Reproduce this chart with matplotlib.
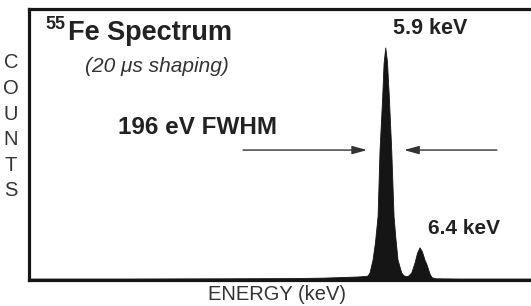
import matplotlib
matplotlib.use("Agg")
import matplotlib.pyplot as plt

plt.rcParams['font.family'] = ['Liberation Sans', 'DejaVu Sans']

# spectrum (energy in keV, counts in arbitrary units)
energy = [0.70, 2.0, 3.5, 4.5, 5.0, 5.3, 5.5, 5.6, 5.642, 5.671, 5.715, 5.75,
          5.788, 5.817, 5.856, 5.875, 5.9, 5.925, 5.952, 5.987, 6.021, 6.05,
          6.079, 6.133, 6.167, 6.206, 6.225, 6.24, 6.279, 6.327, 6.363, 6.4,
          6.436, 6.473, 6.502, 6.546, 6.575, 6.634, 7.0, 8.44]
counts = [4, 4, 5, 6, 8, 11, 13, 15, 17, 30, 86, 160,
          273, 560, 790, 930, 1000, 940, 790, 560, 273, 172,
          86, 30, 18, 14, 16, 18, 30, 73, 115, 139,
          120, 85, 65, 25, 10, 5, 4, 4]

peak_labels = ["5.9 keV", "6.4 keV"]
fwhm_label = "196 eV FWHM"
fwhm_level = 560          # counts at which the FWHM arrows sit
fwhm_tips = (5.628, 6.167)
fwhm_tails = (3.82, 7.52)

W, H = 531, 306
fig = plt.figure(figsize=(W / 100, H / 100), dpi=100)
fig.patch.set_facecolor('white')

def px(x, y):
    return x / W, 1 - y / H

ax = fig.add_axes([29 / W, (H - 280) / H, (560 - 29) / W, (280 - 9) / H])
ax.fill_between(energy, counts, 0, color='#151515', linewidth=0.6, edgecolor='#151515')
ax.set_xlim(0.70, 8.44)
ax.set_ylim(0, 1168)
ax.set_xticks([])
ax.set_yticks([])
for side in ['left', 'top', 'bottom']:
    ax.spines[side].set_linewidth(2.3)
    ax.spines[side].set_color('#151515')
ax.spines['right'].set_visible(False)

# FWHM arrows
arrow = dict(arrowstyle='-|>,head_length=0.9,head_width=0.25', color='#333333', lw=1.0,
             shrinkA=0, shrinkB=0)
ax.annotate('', xy=(fwhm_tips[0], fwhm_level), xytext=(fwhm_tails[0], fwhm_level),
            arrowprops=arrow)
ax.annotate('', xy=(fwhm_tips[1], fwhm_level), xytext=(fwhm_tails[1], fwhm_level),
            arrowprops=arrow)

# texts
fig.text(*px(45, 29), "55", fontsize=13, fontweight='bold', color='#222222',
         ha='left', va='baseline')
fig.text(*px(68, 40), "Fe Spectrum", fontsize=19.5, fontweight='bold', color='#222222',
         ha='left', va='baseline')
fig.text(*px(157, 67), "(20 \u03bcs shaping)", fontsize=15, style='italic',
         color='#333333', ha='center', va='center')
fig.text(*px(198, 127), fwhm_label, fontsize=17.5, fontweight='bold', color='#222222',
         ha='center', va='center')
fig.text(*px(430, 29), peak_labels[0], fontsize=15.5, fontweight='bold', color='#222222',
         ha='center', va='center')
fig.text(*px(464, 228), peak_labels[1], fontsize=15, fontweight='bold', color='#222222',
         ha='center', va='center')
fig.text(*px(277, 295), "ENERGY (keV)", fontsize=14.5, color='#333333',
         ha='center', va='center')
for i, ch in enumerate("COUNTS"):
    fig.text(*px(11, 63 + i * 25.6), ch, fontsize=14.5, color='#333333',
             ha='center', va='center')

fig.savefig("out.png", dpi=100, facecolor='white')
